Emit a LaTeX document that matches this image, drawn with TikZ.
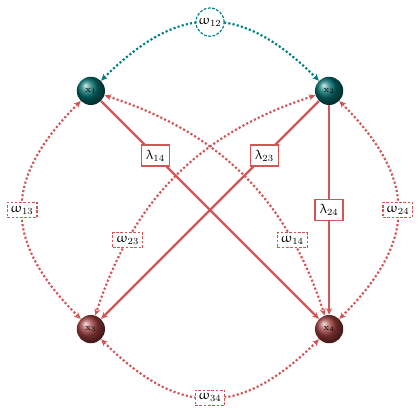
\documentclass[tikz,border=0pt]{standalone}
\usepackage{upgreek}
\usetikzlibrary{arrows.meta}
\definecolor{BallTeal}{HTML}{006C6C}
\definecolor{BallRed}{HTML}{9C3C3C}
\definecolor{LinkRed}{HTML}{D25656}
\definecolor{LinkTeal}{HTML}{008080}

\begin{document}
\begin{tikzpicture}[
  ball/.style={circle,minimum size=0.74cm,inner sep=0pt,font=\scriptsize,text=black},
  lam/.style={draw=LinkRed,line width=1.2pt,fill=white,text=black,inner sep=3.5pt},
  om/.style={draw=LinkRed,line width=0.9pt,dash pattern=on 2pt off 1.2pt,fill=white,text=black,inner sep=2.6pt},
  llink/.style={LinkRed,line width=1.6pt,-{Stealth[length=5pt,width=4.5pt]}},
  wlink/.style={LinkRed,line width=1.6pt,dash pattern=on 1.6pt off 1.6pt,
    {Stealth[length=5pt,width=4.5pt]}-{Stealth[length=5pt,width=4.5pt]}}]
  \useasboundingbox (-5.5,-5.5) rectangle (5.5,5.5);
  \node[ball,ball color=BallTeal] (x1) at (-3.12,3.12) {$\mathrm{x}_1$};
  \node[ball,ball color=BallTeal] (x2) at (3.12,3.12) {$\mathrm{x}_2$};
  \node[ball,ball color=BallRed] (x3) at (-3.12,-3.12) {$\mathrm{x}_3$};
  \node[ball,ball color=BallRed] (x4) at (3.12,-3.12) {$\mathrm{x}_4$};
  % rates between the states
  \draw[wlink,LinkTeal] (x1) to[bend left=45,looseness=1.3]
    node[circle,draw=LinkTeal,line width=0.9pt,dash pattern=on 2pt off 1.2pt,fill=white,text=black,inner sep=0.5pt,minimum size=21pt] (w12) {$\upomega_{12}$} (x2);
  \draw[wlink] (x1) to[bend right=45,looseness=1.3] node[om] (w13) {$\upomega_{13}$} (x3);
  \draw[wlink] (x2) to[bend left=45,looseness=1.3] node[om] (w24) {$\upomega_{24}$} (x4);
  \draw[wlink] (x3) to[bend right=45,looseness=1.3] node[om] (w34) {$\upomega_{34}$} (x4);
  \draw[wlink] (x1) to[bend left=27] node[om,pos=0.76] (w14) {$\upomega_{14}$} (x4);
  \draw[wlink] (x2) to[bend right=27] node[om,pos=0.76] (w23) {$\upomega_{23}$} (x3);
  % decay channels
  \draw[llink] (x1) -- node[lam,pos=0.25] (l14) {$\uplambda_{14}$} (x4);
  \draw[llink] (x2) -- node[lam,pos=0.25] (l23) {$\uplambda_{23}$} (x3);
  \draw[llink] (x2) -- node[lam] (l24) {$\uplambda_{24}$} (x4);
\end{tikzpicture}
\end{document}
